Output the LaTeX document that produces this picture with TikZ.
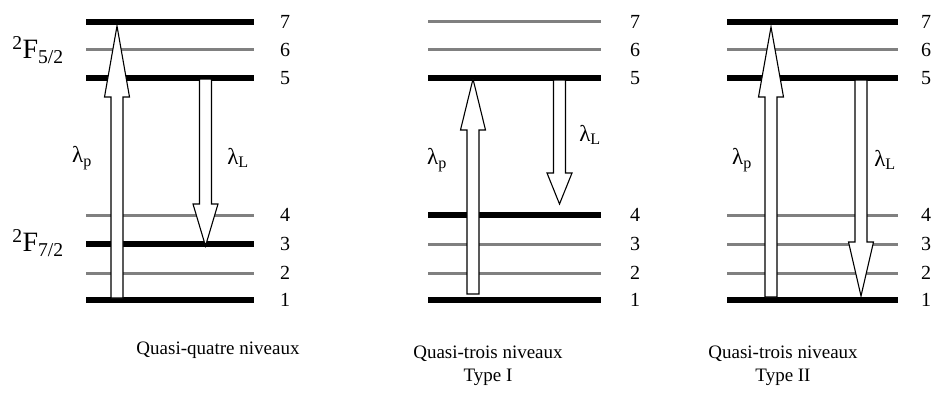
\documentclass[tikz,border=0pt]{standalone}
\usepackage{fontspec}
\setmainfont{Liberation Serif}
\tikzset{
  thicklvl/.style={line width=6pt, black},
  thinlvl/.style={line width=3pt, black!50},
  lvlnum/.style={font=\fontsize{20}{22}\selectfont, inner sep=0pt},
  lam/.style={font=\fontsize{23}{25}\selectfont, inner sep=0pt},
  term/.style={font=\fontsize{28}{30}\selectfont, inner sep=0pt},
  caption/.style={font=\fontsize{19}{23}\selectfont, inner sep=0pt, align=center},
  blk/.style={draw=black, fill=white, line width=1.1pt, line join=miter}
}
% block arrow: x center, tail y, head base y, tip y
\newcommand\blkarrow[4]{%
  \draw[blk] ({#1-6},#2) -- ({#1-6},#3) -- ({#1-12.5},#3) -- (#1,#4) -- ({#1+12.5},#3) -- ({#1+6},#3) -- ({#1+6},#2) -- cycle;}
\begin{document}
\begin{tikzpicture}[x=1pt,y=-1pt]
\useasboundingbox[fill=white] (0,0) rectangle (933,412);
% ---------- diagram 1 ----------
\foreach \y/\s in {22/thicklvl,50/thinlvl,78/thicklvl,215/thinlvl,244/thicklvl,273/thinlvl,300/thicklvl}
  \draw[\s] (86,\y) -- (254,\y);
\foreach \y/\n in {22/7,50/6,78/5,215/4,244/3,273/2,300/1}
  \node[lvlnum] (a\n) at (285,\y) {\n};
\blkarrow{117}{298}{97}{26}
\blkarrow{205.5}{79}{204}{246}
\node[lam] (a-lp) at (82,158) {λ\textsubscript{p}};
\node[lam] (a-lL) at (238,158) {λ\textsubscript{L}};
\node[term] (a-F5) at (38,50) {\textsuperscript{2}F\textsubscript{5/2}};
\node[term] (a-F7) at (38,243) {\textsuperscript{2}F\textsubscript{7/2}};
\node[caption] (a-cap) at (218,350) {Quasi-quatre niveaux};
% ---------- diagram 2 ----------
\foreach \y/\s in {22/thinlvl,50/thinlvl,78/thicklvl,215/thicklvl,244/thinlvl,273/thinlvl,300/thicklvl}
  \draw[\s] (428,\y) -- (601,\y);
\foreach \y/\n in {22/7,50/6,78/5,215/4,244/3,273/2,300/1}
  \node[lvlnum] (b\n) at (635,\y) {\n};
\blkarrow{473}{294}{130}{79}
\blkarrow{559.5}{80}{173}{204}
\node[lam] (b-lp) at (437,160) {λ\textsubscript{p}};
\node[lam] (b-lL) at (590,135) {λ\textsubscript{L}};
\node[caption] (b-cap) at (488,366) {Quasi-trois niveaux\\Type I};
% ---------- diagram 3 ----------
\foreach \y/\s in {22/thicklvl,50/thinlvl,78/thicklvl,215/thinlvl,244/thinlvl,273/thinlvl,300/thicklvl}
  \draw[\s] (727,\y) -- (898,\y);
\foreach \y/\n in {22/7,50/6,78/5,215/4,244/3,273/2,300/1}
  \node[lvlnum] (c\n) at (926,\y) {\n};
\blkarrow{771}{297}{97}{27}
\blkarrow{861}{80}{242}{296}
\node[lam] (c-lp) at (742,160) {λ\textsubscript{p}};
\node[lam] (c-lL) at (885,160) {λ\textsubscript{L}};
\node[caption] (c-cap) at (783,366) {Quasi-trois niveaux\\Type II};
\end{tikzpicture}
\end{document}
